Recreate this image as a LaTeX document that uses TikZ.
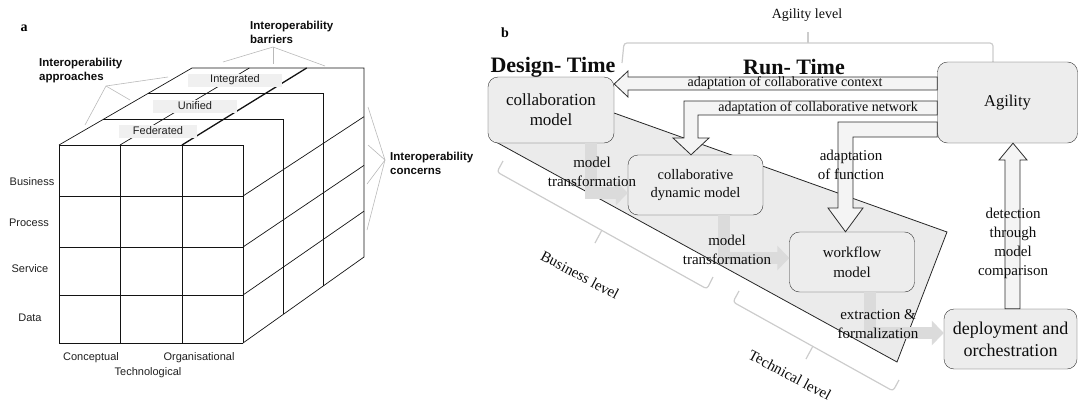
\documentclass[tikz,border=0pt]{standalone}
\usepackage{fontspec}
\setmainfont{Liberation Serif}
\newfontfamily\cubefont{Liberation Sans}
\usetikzlibrary{arrows.meta,calc}

\tikzset{
  cell/.style={draw=gray!15!black, line width=0.7pt},
  tag/.style={font=\cubefont\fontsize{11}{13}\selectfont, text=gray!25!black},
  head/.style={font=\cubefont\bfseries\fontsize{11.5}{14}\selectfont, text=gray!10!black, align=left, anchor=west, inner sep=0pt},
  layer/.style={tag, fill=gray!12, minimum height=13pt, inner sep=1pt},
  callout/.style={draw=gray!55, line width=0.6pt},
  model/.style={draw=gray!40!black, fill=gray!14, rounded corners=10pt, align=center, inner sep=2pt, text=gray!10!black},
  hollow/.style={draw=gray!35!black, fill=gray!9, line width=0.8pt},
  trans/.style={draw=gray!28, line width=12pt, -{Triangle[width=24pt,length=12pt]}},
  brace/.style={draw=gray!40, line width=1.2pt, rounded corners=3pt},
  note/.style={font=\fontsize{15}{19}\selectfont, align=center, text=gray!10!black, inner sep=0pt},
  small/.style={font=\fontsize{14}{16}\selectfont, text=gray!10!black, inner sep=0pt},
}

\begin{document}
\begin{tikzpicture}[x=1pt,y=-1pt]
\useasboundingbox (0,0) rectangle (1080,407);

% a: the cube
\node[font=\bfseries\fontsize{14}{14}\selectfont] (lbla) at (24,28) {a};
\coordinate (ftl) at (59,145);
\coordinate (ftr) at (243,145);
\coordinate (fbr) at (243,343);
\coordinate (btl) at (192,68);
\coordinate (btr) at (364,68);
\coordinate (bbr) at (364,257);
\foreach \y in {145,196,247,295,343}
  \draw[cell] (59,\y) -- (243,\y);
\foreach \x in {59,120,182,243}
  \draw[cell] (\x,145) -- (\x,343);
\draw[cell] (ftl) -- (btl) -- (btr) -- (bbr) -- (fbr);
\foreach \t in {1/3,2/3}
  \draw[cell] ($(ftl)!\t!(btl)$) -- ($(ftr)!\t!(btr)$) -- ($(fbr)!\t!(bbr)$);
\foreach \t in {0.2576,0.5152,0.7576}
  \draw[cell] ($(ftr)!\t!(fbr)$) -- ($(btr)!\t!(bbr)$);
\draw[cell] (120,145) -- ($(btl)!1/3!(btr)$);
\draw[cell, line width=1.3pt] (182,145) -- ($(btl)!2/3!(btr)$);

\node[layer, minimum width=94pt] (integ) at (235,80) {Integrated};
\node[layer, minimum width=84pt] (unif) at (195,106) {Unified};
\node[layer, minimum width=78pt] (feder) at (158,131) {Federated};

\node[tag] (bus) at (32,182) {Business};
\node[tag] (proc) at (29,223) {Process};
\node[tag] (serv) at (30,269) {Service};
\node[tag] (data) at (30,318) {Data};
\node[tag] (conc) at (91,358) {Conceptual};
\node[tag] (org) at (199,358) {Organisational};
\node[tag] (tech) at (148,373) {Technological};

\node[head] (appr) at (39,71) {Interoperability\\approaches};
\node[head] (barr) at (250,32) {Interoperability\\barriers};
\node[head] (concern) at (390,163) {Interoperability\\concerns};
\coordinate (apprtip) at (106,86);
\coordinate (barrtip) at (273,47);
\coordinate (conctip) at (385,160);
\foreach \p in {{85,125},{130,100},{168,77}}
  \draw[callout] (apprtip) -- (\p);
\foreach \p in {{223,62},{273,64},{325,66}}
  \draw[callout] (barrtip) -- (\p);
\foreach \p in {{368,107},{368,145},{367,184},{367,230}}
  \draw[callout] (conctip) -- (\p);

% b: design time / run time
\node[font=\bfseries\fontsize{14}{14}\selectfont] (lblb) at (505,33) {b};
\draw[fill=gray!16, draw=gray!30!black, line width=0.8pt] (496,142) -- (600,108) -- (947,232) -- (897,362) -- cycle;

\draw[brace] (622,63) -- (624,43) -- (993,43) -- (993,62);
\draw[brace] (808,43) -- (808,32);
\node[small] (agillvl) at (807,15) {Agility level};
\draw[brace] (503,161) -- (497,172) -- (707,289) -- (713,277);
\draw[brace] (602,230) -- (595,243);
\draw[brace] (739,291) -- (733,302) -- (893,391) -- (899,380);
\draw[brace] (813,346) -- (806,359);
\node[note, rotate=-28] (buslvl) at (580,275) {Business level};
\node[note, rotate=-28] (techlvl) at (790,375) {Technical level};

\node[model, minimum width=126pt, minimum height=66pt, font=\fontsize{17}{20}\selectfont] (collab) at (551,110) {collaboration\\model};
\node[model, minimum width=135pt, minimum height=60pt, font=\fontsize{14.5}{18}\selectfont] (cdm) at (695.5,185) {collaborative\\dynamic model};
\node[model, minimum width=125pt, minimum height=60pt, font=\fontsize{15}{20}\selectfont] (workflow) at (852,262) {workflow\\model};
\node[model, minimum width=133pt, minimum height=60pt, font=\fontsize{18}{22}\selectfont] (deploy) at (1010.5,339) {deployment and\\orchestration};
\node[model, minimum width=140pt, minimum height=81pt, font=\fontsize{16.5}{20}\selectfont] (agility) at (1007.5,102.5) {Agility};

\draw[trans] (collab.south -| 591,0) |- (cdm.west |- 0,193);
\draw[trans] (cdm.south -| 724,0) |- (workflow.west |- 0,258);
\draw[trans] (workflow.south -| 870,0) |- (deploy.west |- 0,333);

\draw[hollow] (agility.west |- 0,77) -- (628,77) -- (628,71) -- (collab.east |- 0,84)
  -- (628,97) -- (628,90) -- (agility.west |- 0,90) -- cycle;
\draw[hollow] (agility.west |- 0,101) -- (684,101) -- (684,138) -- (673,138) -- (cdm.north -| 691,0)
  -- (709,138) -- (698,138) -- (698,115) -- (agility.west |- 0,115) -- cycle;
\draw[hollow] (agility.west |- 0,122) -- (838,122) -- (838,208) -- (828,208) -- (workflow.north -| 845.5,0)
  -- (863,208) -- (853,208) -- (853,137) -- (agility.west |- 0,137) -- cycle;
\draw[hollow] (deploy.north -| 1005,0) -- (1005,160) -- (999,160) -- (agility.south -| 1013,0)
  -- (1027,160) -- (1020,160) -- (deploy.north -| 1020,0) -- cycle;

\node[small] (ctx) at (785,83) {adaptation of collaborative context};
\node[small] (net) at (818,108) {adaptation of collaborative network};
\node[note] (adfun) at (851,165) {adaptation\\of function};
\node[note] (mt1) at (592,172) {model\\transformation};
\node[note] (mt2) at (727,250) {model\\transformation};
\node[note] (extr) at (878,324) {extraction \&\\formalization};
\node[note] (detect) at (1013,243) {detection\\through\\model\\comparison};

\node[font=\bfseries\fontsize{22}{22}\selectfont, text=gray!10!black] (dtime) at (553,67) {Design- Time};
\node[font=\bfseries\fontsize{22}{22}\selectfont, text=gray!10!black] (rtime) at (794,67) {Run- Time};
\end{tikzpicture}
\end{document}
